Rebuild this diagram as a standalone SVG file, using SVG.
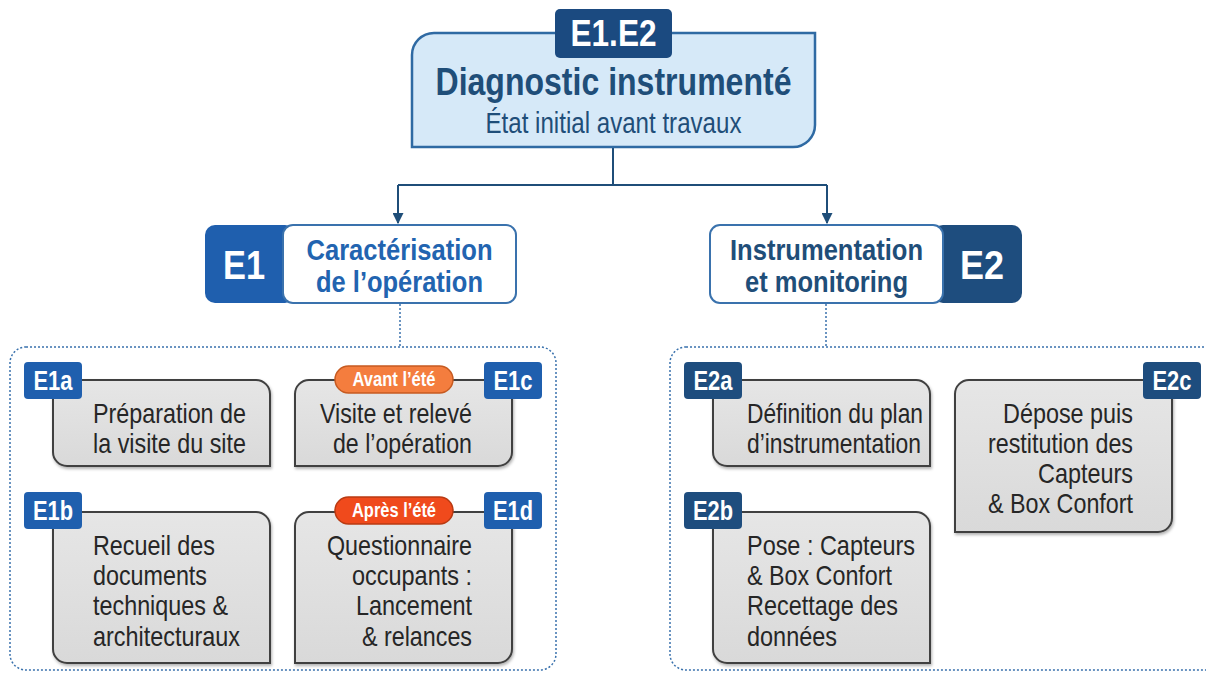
<svg xmlns="http://www.w3.org/2000/svg" width="1206" height="673" viewBox="0 0 1206 673">
  <style>
    .bg { fill: #ffffff; }
    .root-box { fill: #d6e9f8; stroke: #2f6aa3; stroke-width: 2.5; }
    .root-tag { fill: #1b4a80; }
    .tag-text { font-family: "Liberation Sans", Arial, sans-serif; font-weight: bold; fill: #ffffff; text-anchor: middle; }
    .title { font-family: "Liberation Sans", Arial, sans-serif; font-weight: bold; font-size: 38px; fill: #1f4e79; text-anchor: middle; }
    .subtitle { font-family: "Liberation Sans", Arial, sans-serif; font-size: 29px; fill: #1f4e79; text-anchor: middle; }
    .head-box { fill: #ffffff; stroke: #3a72ad; stroke-width: 2; }
    .head1 { font-family: "Liberation Sans", Arial, sans-serif; font-weight: bold; font-size: 29px; fill: #2264b0; text-anchor: middle; }
    .head2 { font-family: "Liberation Sans", Arial, sans-serif; font-weight: bold; font-size: 29px; fill: #1f4e79; text-anchor: middle; }
    .blue1 { fill: #1f5fae; }
    .blue2 { fill: #1e4d7e; }
    .wire { fill: none; stroke: #1f4e79; stroke-width: 2; }
    .dots { fill: none; stroke: #3a72ad; stroke-width: 1.5; stroke-dasharray: 2 2; }
    .group { fill: #ffffff; stroke: #3a72ad; stroke-width: 1.5; stroke-dasharray: 2 2; }
    .task { fill: url(#grey); stroke: #404040; stroke-width: 2; filter: url(#shadow); }
    .task-text { font-family: "Liberation Sans", Arial, sans-serif; font-size: 28.5px; fill: #262626; }
    .end { text-anchor: end; }
    .pill-before { fill: #f47d3e; stroke: #c65a20; stroke-width: 1.5; }
    .pill-after { fill: #f04a1c; stroke: #b93a12; stroke-width: 1.5; }
    .pill-text { font-family: "Liberation Sans", Arial, sans-serif; font-weight: bold; font-size: 20px; fill: #ffffff; text-anchor: middle; }
  </style>
  <defs>
    <linearGradient id="grey" x1="0" y1="0" x2="0" y2="1">
      <stop offset="0" stop-color="#e6e6e6"/>
      <stop offset="1" stop-color="#d9d9d9"/>
    </linearGradient>
    <filter id="shadow" x="-10%" y="-10%" width="120%" height="125%">
      <feDropShadow dx="1" dy="2" stdDeviation="1.5" flood-color="#000000" flood-opacity="0.3"/>
    </filter>
    <marker id="arrow" viewBox="0 0 10 10" refX="9" refY="5" markerWidth="5.5" markerHeight="5.5" orient="auto" markerUnits="strokeWidth">
      <path d="M0,0 L10,5 L0,10 Z" fill="#1f4e79"/>
    </marker>
  </defs>

  <rect class="bg" x="0" y="0" width="1206" height="673"/>

  <!-- connectors -->
  <g id="connectors">
    <path class="wire" d="M613,147 V185"/>
    <path class="wire" d="M398,185 H827"/>
    <path class="wire" d="M398,185 V223" marker-end="url(#arrow)"/>
    <path class="wire" d="M827,185 V223" marker-end="url(#arrow)"/>
    <path class="dots" d="M400,304 V347"/>
    <path class="dots" d="M826,304 V347"/>
  </g>

  <!-- root -->
  <g id="root">
    <path class="root-box" d="M412,55 A22,22 0 0 1 434,33 H815 V125 A22,22 0 0 1 793,147 H412 Z"/>
    <rect class="root-tag" x="555" y="9" width="117" height="49" rx="5"/>
    <text class="tag-text" x="613.5" y="46" font-size="37" textLength="86" lengthAdjust="spacingAndGlyphs">E1.E2</text>
    <text class="title" x="613.5" y="95" textLength="356" lengthAdjust="spacingAndGlyphs">Diagnostic instrumenté</text>
    <text class="subtitle" x="613.5" y="133" textLength="256" lengthAdjust="spacingAndGlyphs">État initial avant travaux</text>
  </g>

  <!-- E1 heading -->
  <g id="e1">
    <rect class="blue1" x="205" y="225" width="90" height="78" rx="10"/>
    <rect class="head-box" x="283" y="225" width="233" height="78" rx="10"/>
    <text class="tag-text" x="244" y="279" font-size="40" textLength="42" lengthAdjust="spacingAndGlyphs">E1</text>
    <text class="head1" x="399.5" y="260" textLength="186" lengthAdjust="spacingAndGlyphs">Caractérisation</text>
    <text class="head1" x="399.5" y="292" textLength="167" lengthAdjust="spacingAndGlyphs">de l’opération</text>
  </g>

  <!-- E2 heading -->
  <g id="e2">
    <rect class="blue2" x="933" y="225" width="89" height="78" rx="10"/>
    <rect class="head-box" x="710" y="225" width="233" height="78" rx="10"/>
    <text class="tag-text" x="982" y="279" font-size="40" textLength="44" lengthAdjust="spacingAndGlyphs">E2</text>
    <text class="head2" x="826.5" y="260" textLength="193" lengthAdjust="spacingAndGlyphs">Instrumentation</text>
    <text class="head2" x="826.5" y="292" textLength="163" lengthAdjust="spacingAndGlyphs">et monitoring</text>
  </g>

  <!-- grouping frames -->
  <g id="group-e1">
    <rect class="group" x="10" y="347" width="546" height="323" rx="16"/>
  </g>
  <g id="group-e2">
    <rect class="group" x="670" y="347" width="560" height="323" rx="16"/>
  </g>

  <!-- E1a -->
  <g id="e1a">
    <path class="task" d="M53,380 H256 A14,14 0 0 1 270,394 V466 H67 A14,14 0 0 1 53,452 Z"/>
    <rect class="blue1" x="24" y="362" width="58" height="37" rx="4"/>
    <text class="tag-text" x="53" y="390" font-size="27" textLength="39" lengthAdjust="spacingAndGlyphs">E1a</text>
    <text class="task-text" x="93" y="423" textLength="153" lengthAdjust="spacingAndGlyphs">Préparation de</text>
    <text class="task-text" x="93" y="453" textLength="153" lengthAdjust="spacingAndGlyphs">la visite du site</text>
  </g>

  <!-- E1b -->
  <g id="e1b">
    <path class="task" d="M53,512 H256 A14,14 0 0 1 270,526 V663 H67 A14,14 0 0 1 53,649 Z"/>
    <rect class="blue1" x="24" y="492" width="58" height="37" rx="4"/>
    <text class="tag-text" x="53" y="520" font-size="27" textLength="40" lengthAdjust="spacingAndGlyphs">E1b</text>
    <text class="task-text" x="93" y="555" textLength="122" lengthAdjust="spacingAndGlyphs">Recueil des</text>
    <text class="task-text" x="93" y="585" textLength="114" lengthAdjust="spacingAndGlyphs">documents</text>
    <text class="task-text" x="93" y="615" textLength="135" lengthAdjust="spacingAndGlyphs">techniques &amp;</text>
    <text class="task-text" x="93" y="646" textLength="147" lengthAdjust="spacingAndGlyphs">architecturaux</text>
  </g>

  <!-- E1c -->
  <g id="e1c">
    <path class="task" d="M295,394 A14,14 0 0 1 309,380 H512 V452 A14,14 0 0 1 498,466 H295 Z"/>
    <rect class="blue1" x="484" y="362" width="58" height="37" rx="4"/>
    <text class="tag-text" x="513" y="390" font-size="27" textLength="39" lengthAdjust="spacingAndGlyphs">E1c</text>
    <rect class="pill-before" x="335" y="366" width="118" height="27" rx="13.5"/>
    <text class="pill-text" x="394" y="386" textLength="83" lengthAdjust="spacingAndGlyphs">Avant l’été</text>
    <text class="task-text end" x="472" y="423" textLength="152" lengthAdjust="spacingAndGlyphs">Visite et relevé</text>
    <text class="task-text end" x="472" y="453" textLength="139" lengthAdjust="spacingAndGlyphs">de l’opération</text>
  </g>

  <!-- E1d -->
  <g id="e1d">
    <path class="task" d="M295,526 A14,14 0 0 1 309,512 H512 V649 A14,14 0 0 1 498,663 H295 Z"/>
    <rect class="blue1" x="484" y="492" width="58" height="37" rx="4"/>
    <text class="tag-text" x="513" y="520" font-size="27" textLength="40" lengthAdjust="spacingAndGlyphs">E1d</text>
    <rect class="pill-after" x="335" y="497" width="118" height="27" rx="13.5"/>
    <text class="pill-text" x="394" y="517" textLength="84" lengthAdjust="spacingAndGlyphs">Après l’été</text>
    <text class="task-text end" x="472" y="555" textLength="145" lengthAdjust="spacingAndGlyphs">Questionnaire</text>
    <text class="task-text end" x="472" y="585" textLength="120" lengthAdjust="spacingAndGlyphs">occupants :</text>
    <text class="task-text end" x="472" y="615" textLength="116" lengthAdjust="spacingAndGlyphs">Lancement</text>
    <text class="task-text end" x="472" y="646" textLength="110" lengthAdjust="spacingAndGlyphs">&amp; relances</text>
  </g>

  <!-- E2a -->
  <g id="e2a">
    <path class="task" d="M713,380 H916 A14,14 0 0 1 930,394 V466 H727 A14,14 0 0 1 713,452 Z"/>
    <rect class="blue2" x="684" y="362" width="58" height="37" rx="4"/>
    <text class="tag-text" x="713" y="390" font-size="27" textLength="39" lengthAdjust="spacingAndGlyphs">E2a</text>
    <text class="task-text" x="747" y="423" textLength="176" lengthAdjust="spacingAndGlyphs">Définition du plan</text>
    <text class="task-text" x="747" y="453" textLength="174" lengthAdjust="spacingAndGlyphs">d’instrumentation</text>
  </g>

  <!-- E2b -->
  <g id="e2b">
    <path class="task" d="M713,512 H916 A14,14 0 0 1 930,526 V663 H727 A14,14 0 0 1 713,649 Z"/>
    <rect class="blue2" x="684" y="492" width="58" height="37" rx="4"/>
    <text class="tag-text" x="713" y="520" font-size="27" textLength="40" lengthAdjust="spacingAndGlyphs">E2b</text>
    <text class="task-text" x="747" y="555" textLength="168" lengthAdjust="spacingAndGlyphs">Pose : Capteurs</text>
    <text class="task-text" x="747" y="585" textLength="145" lengthAdjust="spacingAndGlyphs">&amp; Box Confort</text>
    <text class="task-text" x="747" y="615" textLength="151" lengthAdjust="spacingAndGlyphs">Recettage des</text>
    <text class="task-text" x="747" y="646" textLength="90" lengthAdjust="spacingAndGlyphs">données</text>
  </g>

  <!-- E2c -->
  <g id="e2c">
    <path class="task" d="M955,394 A14,14 0 0 1 969,380 H1172 V518 A14,14 0 0 1 1158,532 H955 Z"/>
    <rect class="blue2" x="1143" y="362" width="58" height="37" rx="4"/>
    <text class="tag-text" x="1172" y="390" font-size="27" textLength="39" lengthAdjust="spacingAndGlyphs">E2c</text>
    <text class="task-text end" x="1133" y="423" textLength="130" lengthAdjust="spacingAndGlyphs">Dépose puis</text>
    <text class="task-text end" x="1133" y="453" textLength="145" lengthAdjust="spacingAndGlyphs">restitution des</text>
    <text class="task-text end" x="1133" y="483" textLength="95" lengthAdjust="spacingAndGlyphs">Capteurs</text>
    <text class="task-text end" x="1133" y="513" textLength="145" lengthAdjust="spacingAndGlyphs">&amp; Box Confort</text>
  </g>
</svg>
